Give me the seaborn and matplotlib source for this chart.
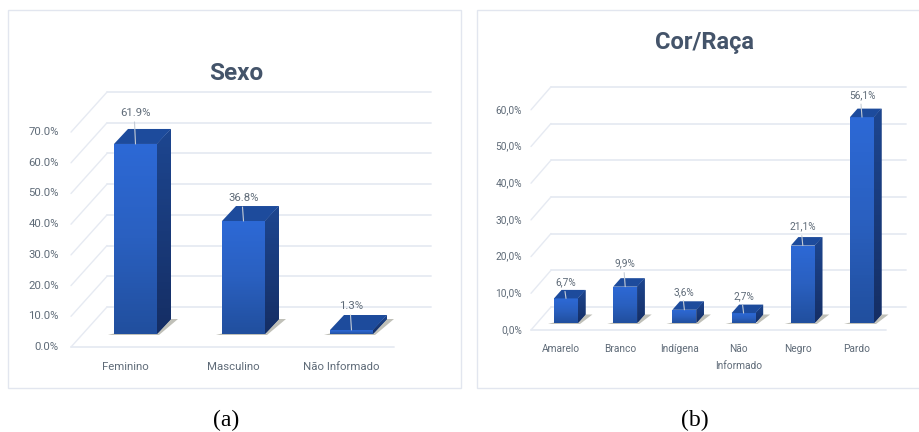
import numpy as np
import matplotlib
matplotlib.use("Agg")
import matplotlib.pyplot as plt
from matplotlib.patches import Polygon, Rectangle
from matplotlib.transforms import ScaledTranslation
from matplotlib.colors import LinearSegmentedColormap
import seaborn as sns

sexo_categories = ["Feminino", "Masculino", "Não Informado"]
sexo_values = [61.9, 36.8, 1.3]
sexo_labels = ["61.9%", "36.8%", "1.3%"]
sexo_ticks = [0, 10, 20, 30, 40, 50, 60, 70]
sexo_ticklabels = ["0.0%", "10.0%", "20.0%", "30.0%", "40.0%", "50.0%", "60.0%", "70.0%"]

raca_categories = ["Amarelo", "Branco", "Indígena", "Não\nInformado", "Negro", "Pardo"]
raca_values = [6.7, 9.9, 3.6, 2.7, 21.1, 56.1]
raca_labels = ["6,7%", "9,9%", "3,6%", "2,7%", "21,1%", "56,1%"]
raca_ticks = [0, 10, 20, 30, 40, 50, 60]
raca_ticklabels = ["0,0%", "10,0%", "20,0%", "30,0%", "40,0%", "50,0%", "60,0%"]

W, H = 920, 432
FONT = ["Roboto", "DejaVu Sans"]
TXT = "#5f6b78"
TITLE = "#44546a"
GRID = "#e6eaf2"
EDGE = "#e2e6ef"

sns.set_theme(style="white")
plt.rcParams["font.family"] = FONT

fig = plt.figure(figsize=(W / 100, H / 100), dpi=100, facecolor="white")
front_cm = LinearSegmentedColormap.from_list("f", ["#2d69d6", "#2a60c0", "#214f9e"])
side_cm = LinearSegmentedColormap.from_list("s", ["#1d4690", "#152e64"])

for x0, x1 in [(8, 461), (477, 922)]:
    fig.add_artist(Rectangle((x0 / W, 1 - 388 / H), (x1 - x0) / W, 378 / H, transform=fig.transFigure,
                             facecolor="white", edgecolor=EDGE, lw=1.0, zorder=-5))


def chart(cats, vals, labels, ticks, ticklabels, title, left, step, base, scale, ytop, width,
          depth_x, depth_y, wall_x, wall_y, wall_right, floor_left, floor_right, floor_y,
          tick_right, tick_dy, cat_dx, cat_pad, gaps, title_xy, fs, title_fs, lsp):
    n = len(cats)
    right = left + step * n
    top = base - ytop * scale
    ax = fig.add_axes([left / W, 1 - base / H, (right - left) / W, (base - top) / H])
    ax.patch.set_alpha(0)
    sns.barplot(x=cats, y=vals, ax=ax, color="#2a60c0", width=width / step, saturation=1, zorder=3)
    ax.set_xlim(-0.5, n - 0.5)
    ax.set_ylim(0, ytop)
    sns.despine(ax=ax, left=True, bottom=True)

    X = lambda px: px / step
    Y = lambda px: px / scale
    xp = lambda px: (px - left) / step - 0.5
    dx, dy = X(depth_x), Y(depth_y)

    # back wall grid lines and side wall diagonals
    for t in ticks:
        yb = t + Y(base - wall_y)
        yf = t + Y(base - floor_y)
        ax.plot([xp(wall_x), xp(wall_right)], [yb, yb], color=GRID, lw=1.3, clip_on=False, zorder=1)
        ax.plot([xp(floor_left), xp(wall_x)], [yf, yb], color=GRID, lw=1.0, clip_on=False, zorder=1)
    yf0 = Y(base - floor_y)
    ax.plot([xp(floor_left), xp(floor_right)], [yf0, yf0], color=GRID, lw=1.3, clip_on=False, zorder=1)

    grad = np.linspace(0, 1, 64).reshape(-1, 1)
    for bar, v, lab, gap in zip(list(ax.patches), vals, labels, gaps):
        l, r = bar.get_x(), bar.get_x() + bar.get_width()
        ax.add_patch(Polygon([(l - X(6), -Y(1)), (r + X(2), -Y(1)), (r + dx + X(7), dy),
                              (r + dx, dy)], closed=True, fc="#c0c0b8", ec="none", zorder=2, clip_on=False))
        im = ax.imshow(grad, extent=(l, r, 0, v), cmap=front_cm, aspect="auto", origin="upper", zorder=3.2)
        im.set_clip_path(bar)
        side = Polygon([(r, 0), (r + dx, dy), (r + dx, v + dy), (r, v)], closed=True, fc="#1a3c7c", ec="none",
                       zorder=3, clip_on=False)
        ax.add_patch(side)
        im2 = ax.imshow(grad, extent=(r, r + dx, 0, v + dy), cmap=side_cm, aspect="auto", origin="upper", zorder=3.1)
        im2.set_clip_path(side)
        ax.add_patch(Polygon([(l, v), (r, v), (r + dx, v + dy), (l + dx, v + dy)], closed=True,
                             fc="#1d4b9c", ec="none", zorder=3.3, clip_on=False))
        c = (l + r) / 2
        ax.plot([c, c - X(1)], [v, v + Y(gap - 9)], color="#c4ccd6", lw=0.8, clip_on=False, zorder=4)
        ax.text(c, v + Y(gap), lab, ha="center", va="center", color=TXT, fontsize=fs, clip_on=False, zorder=5)
    ax.set_xlim(-0.5, n - 0.5)
    ax.set_ylim(0, ytop)

    ax.set_xticks(range(n), cats)
    ax.set_yticks(ticks, ticklabels)
    ax.set_xlabel("")
    ax.set_ylabel("")
    ax.tick_params(axis="x", length=0, pad=cat_pad, labelsize=fs, labelcolor=TXT)
    ax.tick_params(axis="y", length=0, pad=(left - tick_right) * 0.72, labelsize=fs, labelcolor=TXT)
    for lb in ax.get_yticklabels():
        lb.set_transform(lb.get_transform() + ScaledTranslation(0, -tick_dy / 100, fig.dpi_scale_trans))
    for lb in ax.get_xticklabels():
        lb.set_transform(lb.get_transform() + ScaledTranslation(cat_dx / 100, 0, fig.dpi_scale_trans))
        lb.set_linespacing(lsp)
    ax.set_title(title, x=(title_xy[0] - left) / (right - left), y=(base - title_xy[1]) / (base - top), pad=0,
                 va="center", ha="center", fontsize=title_fs, fontweight="bold", color=TITLE)


chart(sexo_categories, sexo_values, sexo_labels, sexo_ticks, sexo_ticklabels, "Sexo",
      left=81.5, step=108, base=334, scale=3.07, ytop=80, width=43,
      depth_x=14, depth_y=15, wall_x=107, wall_y=307, wall_right=431,
      floor_left=71, floor_right=394, floor_y=347,
      tick_right=59, tick_dy=12, cat_dx=-10, cat_pad=20, gaps=[31, 23, 24], title_xy=(236, 74),
      fs=8.2, title_fs=17.5, lsp=1.7)

chart(raca_categories, raca_values, raca_labels, raca_ticks, raca_ticklabels, "Cor/Raça",
      left=536.4, step=59.2, base=323, scale=3.67, ytop=70, width=24,
      depth_x=7.5, depth_y=8.5, wall_x=551, wall_y=307, wall_right=906,
      floor_left=531, floor_right=886, floor_y=330,
      tick_right=522, tick_dy=6, cat_dx=-5, cat_pad=15, gaps=[16, 23, 18, 17, 19, 22], title_xy=(704, 43),
      fs=7.3, title_fs=17, lsp=1.9)

for cap, cx in [("(a)", 226), ("(b)", 695)]:
    fig.text(cx / W, 1 - 420 / H, cap, ha="center", va="center", family="Liberation Serif", fontsize=17, color="black")

fig.savefig("out.png", dpi=100)
